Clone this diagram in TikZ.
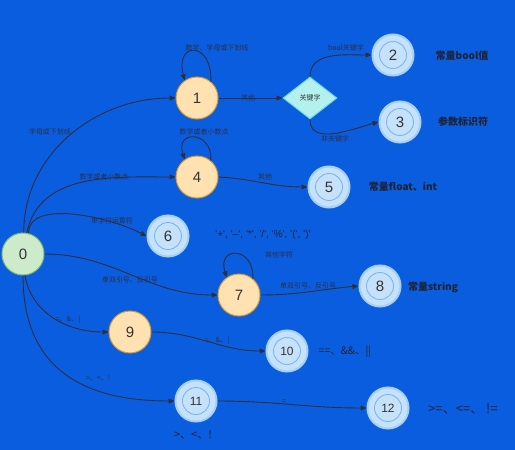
\documentclass[tikz,border=0pt]{standalone}
\usepackage{fontspec}
\setmainfont{Noto Sans CJK SC}
\newfontfamily\numfont{Liberation Sans}
\usetikzlibrary{shapes.geometric,arrows.meta}
\definecolor{bg}{HTML}{0B5DDF}
\definecolor{linec}{HTML}{2E2E3A}
\definecolor{labc}{HTML}{2A2F45}
\definecolor{bigc}{HTML}{1E2233}
\definecolor{numc}{HTML}{333333}
\definecolor{gfill}{HTML}{CDEACB}
\definecolor{gdraw}{HTML}{86BD6C}
\definecolor{ofill}{HTML}{FFE1B2}
\definecolor{odraw}{HTML}{D89A2B}
\definecolor{bfill}{HTML}{C6E2FA}
\definecolor{bring}{HTML}{A6D0F6}
\definecolor{binner}{HTML}{7EB6EA}
\definecolor{dfill}{HTML}{B3F0EE}
\definecolor{ddraw}{HTML}{6FD6D6}
\newcommand{\gp}{,\hspace{3pt}}
\begin{document}
\begin{tikzpicture}[x=1pt,y=-1pt,
  edge/.style={draw=linec, line width=0.9pt, -{Triangle[length=6pt,width=5pt]}},
  elab/.style={font=\fontsize{7}{8}\selectfont, text=labc, inner sep=0},
  big/.style={font=\fontsize{10}{12}\selectfont\bfseries, text=bigc, inner sep=0},
  sym/.style={font=\fontsize{10}{12}\selectfont, text=bigc, inner sep=0},
  numtxt/.style={font=\numfont\fontsize{15}{15}\selectfont, text=numc},
  numsmall/.style={font=\numfont\fontsize{12}{12}\selectfont, text=numc},
  startst/.style={circle, minimum size=42pt, inner sep=0, fill=gfill, draw=gdraw, line width=1pt, numtxt},
  midst/.style={circle, minimum size=42pt, inner sep=0, fill=ofill, draw=odraw, line width=1pt, numtxt},
  finst/.style={circle, minimum size=41pt, inner sep=0, fill=bfill, draw=bring, line width=2pt, numtxt},
  innerc/.style={draw=binner, line width=0.9pt},
  decst/.style={diamond, aspect=1.3, minimum width=54pt, minimum height=42pt, inner sep=0, fill=dfill, draw=ddraw, line width=1pt, font=\fontsize{7}{8}\selectfont, text=numc},
]
\fill[bg] (0,0) rectangle (515,450);
\useasboundingbox (0,0) rectangle (515,450);

% nodes
\node[startst] (n0) at (23,254) {0};
\node[midst] (n1) at (197,98) {1};
\node[decst] (kw) at (310,98) {关键字};
\node[finst] (n2) at (393,55) {2};
\node[finst] (n3) at (400,122) {3};
\node[midst] (n4) at (197,177) {4};
\node[finst] (n5) at (329,187) {5};
\node[finst] (n6) at (168,236) {6};
\node[midst] (n7) at (239,295) {7};
\node[finst] (n8) at (380,286) {8};
\node[midst] (n9) at (130,332) {9};
\node[finst, numsmall] (n10) at (287,351) {10};
\node[finst, numsmall] (n11) at (196,401) {11};
\node[finst, numsmall] (n12) at (388,408) {12};
\foreach \n in {n2,n3,n5,n6,n8,n10,n11,n12}
  \draw[innerc] (\n.center) circle (13.5pt);

% big labels
\node[big] (t2) at (462,56) {常量bool值};
\node[big] (t3) at (463,122) {参数标识符};
\node[big] (t5) at (403,187) {常量float、int};
\node[font=\numfont\fontsize{10}{12}\selectfont, text=bigc, inner sep=0] (t6) at (263,235) {'+'\gp'–'\gp'*'\gp'/'\gp'\%'\gp'('\gp')'};
\node[big] (t8) at (433,287) {常量string};
\node[sym, font=\fontsize{10.5}{12}\selectfont] (t10) at (345,352) {==、\&\&、||};
\node[sym, font=\fontsize{13}{14}\selectfont] (t12) at (463,409) {>=、<=、 !=};
\node[sym, font=\fontsize{11}{12}\selectfont] (t11) at (193,435) {>、<、!};

% edges
\draw[edge] (n0.88) to[out=90,in=180] (n1.west);
\draw[edge] (n0.80) to[out=78,in=180] (n4.west);
\draw[edge] (n0.75) .. controls (28,200) and (105,215) .. (n6.west);
\draw[edge] (n0.east) to[out=0,in=180] (n7.west);
\draw[edge] (n0.-85) to[out=-80,in=180] (n9.west);
\draw[edge] (n0.-90) to[out=-90,in=180,looseness=1.2] (n11.west);
\draw[edge] (n1.east) -- (kw.west);
\draw[edge] (kw.north) to[out=90,in=180] (n2.west);
\draw[edge] (kw.south) to[out=-90,in=195] (n3.west);
\draw[edge] (n4.east) to[out=-3,in=180] (n5.west);
\draw[edge] (n7.east) to[out=0,in=185] (n8.west);
\draw[edge] (n9.east) to[out=0,in=180] (n10.west);
\draw[edge] (n11.east) to[out=0,in=180] (n12.west);

% loops
\draw[edge] (n1.50) .. controls +(2,-40) and +(-10,-40) .. (n1.125);
\draw[edge] (n4.50) .. controls +(2,-30) and +(-10,-30) .. (n4.125);
\draw[edge] (n7.50) .. controls +(2,-32) and +(-10,-32) .. (n7.125);

% edge labels
\node[elab] (l01) at (50,132) {字母或下划线};
\node[elab] (l11) at (217,48) {数字、字母或下划线};
\node[elab] (l1k) at (248,98) {其他};
\node[elab] (lk2) at (346,48) {bool关键字};
\node[elab] (lk3) at (335,139) {非关键字};
\node[elab] (l44) at (204,132) {数字或者小数点};
\node[elab] (l04) at (104,177) {数字或者小数点};
\node[elab] (l45) at (265,177) {其他};
\node[elab] (l06) at (112,221) {单字符运算符};
\node[elab] (l07) at (130,280) {单双引号、反引号};
\node[elab] (l77) at (279,255) {其他字符};
\node[elab] (l78) at (308,286) {单双引号、反引号};
\node[elab] (l09) at (68,320) {=、\&、|};
\node[elab] (l910) at (217,341) {=、\&、|};
\node[elab] (l011) at (98,378) {>、<、!};
\node[elab] (l1112) at (284,402) {=};
\end{tikzpicture}
\end{document}
